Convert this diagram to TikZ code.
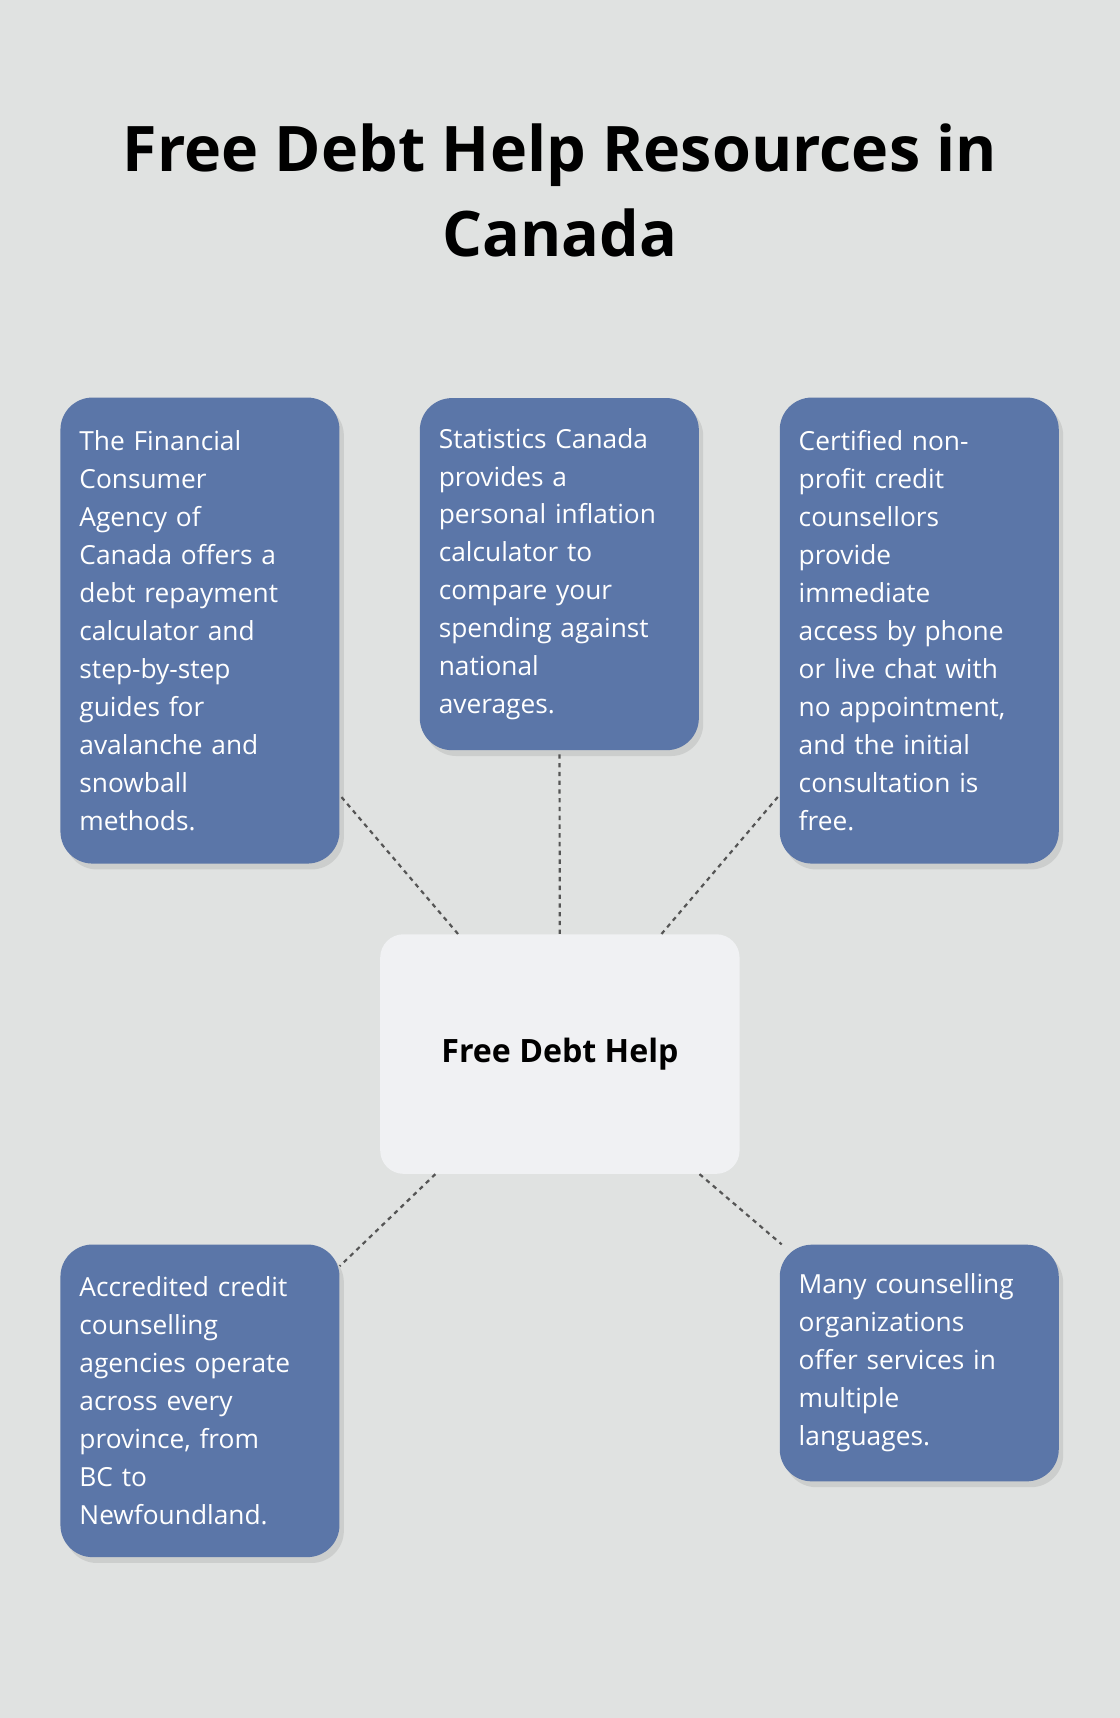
\documentclass[tikz,border=0pt]{standalone}
\usepackage{fontspec}
\setmainfont{Open Sans}
\usetikzlibrary{shadows}
\definecolor{bgcol}{HTML}{E0E2E1}
\definecolor{boxcol}{HTML}{5B76A8}
\definecolor{hubcol}{HTML}{F0F1F3}
\definecolor{linecol}{HTML}{555555}
\begin{document}
\begin{tikzpicture}[x=0.75pt,y=-0.75pt]
		\tikzstyle{infobox}=[rectangle,rounded corners=22pt,fill=boxcol,text=white,
			minimum width=191pt,align=left,text width=165pt,inner sep=0pt,
			font=\fontsize{18}{26}\selectfont,
			drop shadow={opacity=0.2,shadow xshift=3pt,shadow yshift=-4pt}];
		\tikzstyle{hubbox}=[rectangle,rounded corners=16pt,fill=hubcol,
			minimum width=246pt,minimum height=164pt,
			font=\fontsize{22}{26}\selectfont\bfseries];
		\tikzstyle{link}=[draw=linecol,line width=1.5pt,dash pattern=on 3pt off 3pt];
		\fill[bgcol](0,0)rectangle(1022,1568);
		\node[align=center,font=\fontsize{43}{58}\selectfont\bfseries](title)at(511,174)
			{Free Debt Help Resources in\\Canada};

		\node[infobox,minimum height=319pt](fcac)at(182.5,575.5){The Financial\\Consumer\\Agency of\\Canada offers a\\debt repayment\\calculator and\\step-by-step\\guides for\\avalanche and\\snowball\\methods.};
		\node[infobox,minimum height=241pt](statcan)at(510.5,524){Statistics Canada\\provides a\\personal inflation\\calculator to\\compare your\\spending against\\national\\averages.};
		\node[infobox,minimum height=319pt](nonprofit)at(839,575.5){Certified non-\\profit credit\\counsellors\\provide\\immediate\\access by phone\\or live chat with\\no appointment,\\and the initial\\consultation is\\free.};
		\node[infobox,minimum height=214pt](agencies)at(182.5,1278.5){Accredited credit\\counselling\\agencies operate\\across every\\province, from\\BC to\\Newfoundland.};
		\node[infobox,minimum height=162pt](languages)at(839,1244){Many counselling\\organizations\\offer services in\\multiple\\languages.};

		\node[hubbox](hub)at(511,962){Free Debt Help};

		\draw[link](hub)--(fcac);
		\draw[link](hub)--(statcan);
		\draw[link](hub)--(nonprofit);
		\draw[link](hub)--(agencies);
		\draw[link](hub)--(languages);
	\end{tikzpicture}
\end{document}
